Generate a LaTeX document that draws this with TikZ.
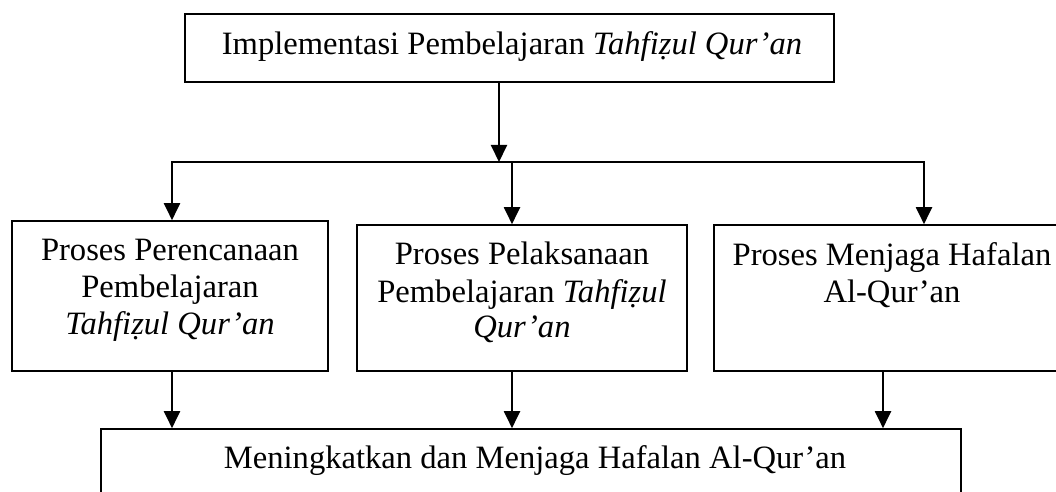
\documentclass[tikz,border=0pt]{standalone}
\usepackage{fontspec}
\setmainfont{Liberation Serif}
\usetikzlibrary{arrows.meta}
\begin{document}
\begin{tikzpicture}[x=0.5pt,y=-0.5pt,
  box/.style={draw, line width=0.8pt, inner sep=0pt, rectangle},
  lbl/.style={anchor=base, inner sep=0pt, font=\fontsize{16.3}{18.75}\selectfont},
  arr/.style={line width=1pt, -{Triangle[width=8pt,length=8.5pt]}}]
\useasboundingbox (0,0) rectangle (1056,492);
\clip (0,0) rectangle (1056,492);
\fill[white] (0,0) rectangle (1056,492);
% boxes
\node[box, minimum width=324.5pt, minimum height=34pt] (top) at (509.5,48) {};
\node[box, minimum width=158pt, minimum height=75pt] (L) at (170,296) {};
\node[box, minimum width=165pt, minimum height=73pt] (M) at (522,298) {};
\node[box, minimum width=178pt, minimum height=73pt] (R) at (892,298) {};
\node[box, minimum width=430pt, minimum height=51pt] (B) at (531,480) {};
% texts
\node[lbl] (t0) at (512,55) {Implementasi Pembelajaran \textit{Tahfiẓul Qur’an}};
\node[lbl] (l1) at (170,260) {Proses Perencanaan};
\node[lbl] (l2) at (170,297) {Pembelajaran};
\node[lbl] (l3) at (170,335) {\textit{Tahfiẓul Qur’an}};
\node[lbl] (m1) at (522,264) {Proses Pelaksanaan};
\node[lbl] (m2) at (522,302) {Pembelajaran \textit{Tahfiẓul}};
\node[lbl] (m3) at (522,337) {\textit{Qur’an}};
\node[lbl] (r1) at (892,265) {Proses Menjaga Hafalan};
\node[lbl] (r2) at (892,302) {Al-Qur’an};
\node[lbl] (b1) at (535,468) {Meningkatkan dan Menjaga Hafalan Al-Qur’an};
% connectors
\coordinate (jt) at (499,162);
\coordinate (jl) at (172,162);
\coordinate (jm) at (512,162);
\coordinate (jr) at (924,162);
\coordinate (jb) at (883,400);
\draw[arr] (top.south -| jt) -- (jt);
\draw[arr] (jm) -- (jl) -- (jl |- L.north);
\draw[arr] (jm) -- (jr) -- (jr |- R.north);
\draw[arr] (jm) -- (jm |- M.north);
\draw[arr] (L.south -| jl) -- (B.north -| jl);
\draw[arr] (M.south -| jm) -- (B.north -| jm);
\draw[arr] (R.south -| jb) -- (B.north -| jb);
\end{tikzpicture}
\end{document}
